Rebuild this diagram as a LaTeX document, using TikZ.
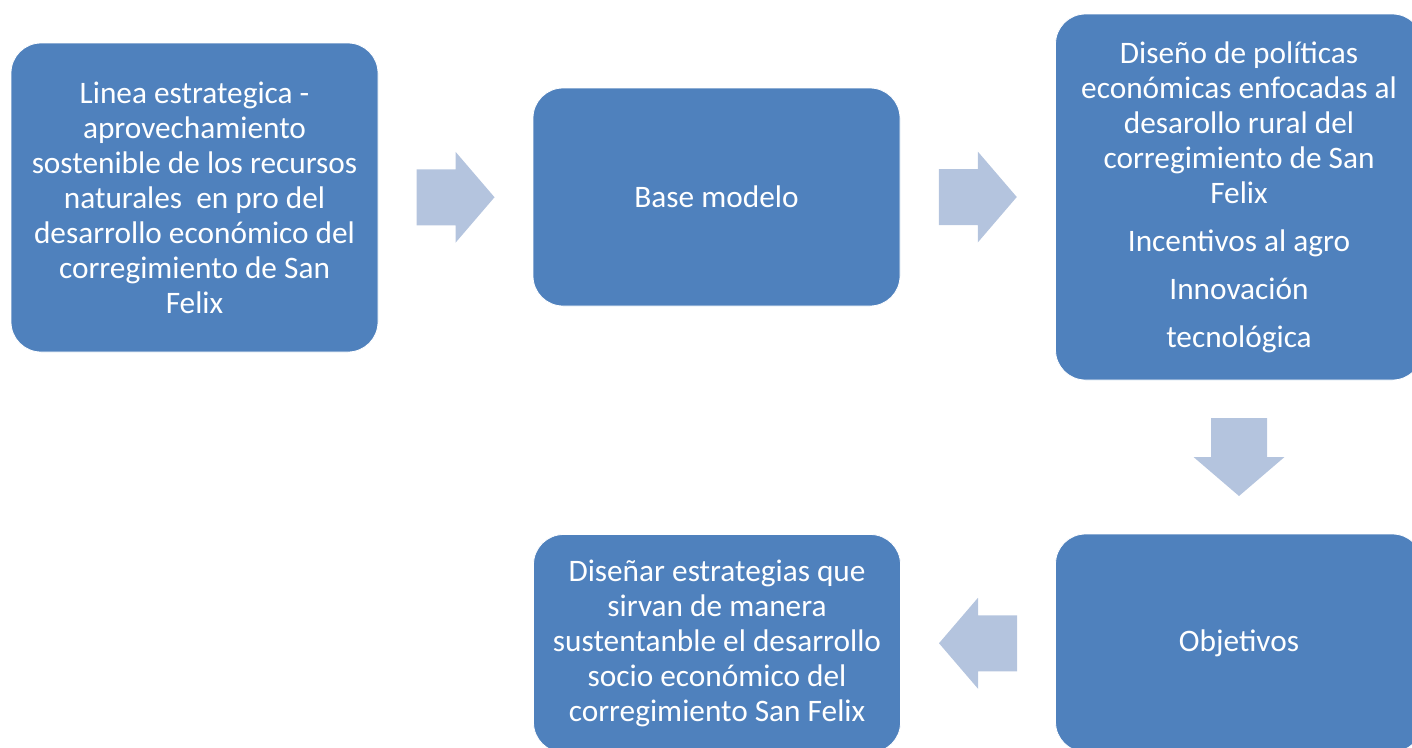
\documentclass[tikz,border=0pt]{standalone}
\usepackage{fontspec}
\setmainfont{Carlito}
\usetikzlibrary{calc}

\definecolor{boxblue}{RGB}{79,129,189}
\definecolor{arrowblue}{RGB}{180,196,222}

\tikzset{
    stagebox/.style={fill=boxblue, draw=white, line width=0.8pt, rounded corners=30pt,
        text=white, align=center, minimum width=367pt, inner sep=0pt,
        font=\fontsize{31.3}{35}\selectfont},
    blockarrow/.pic={
        \fill[arrowblue] (-39,-28) -- (0,-28) -- (0,-45.5) -- (39,0)
            -- (0,45.5) -- (0,28) -- (-39,28) -- cycle;
    }
}

\begin{document}
\begin{tikzpicture}[x=1pt,y=-1pt]
        \useasboundingbox (0,0) rectangle (1412,747);
        \clip (0,0) rectangle (1412,747);

        % Stages
        \node[stagebox, minimum height=309pt] (linea) at (194.5,197.5)
            {Linea estrategica -\\aprovechamiento\\sostenible de los recursos\\naturales\ \ en pro del\\desarrollo económico del\\corregimiento de San\\Felix};
        \node[stagebox, minimum height=218pt] (base) at (716.5,197)
            {Base modelo};
        \node[stagebox, minimum height=366pt] (diseno) at (1239,197)
            {Diseño de políticas\\económicas enfocadas al\\desarollo rural del\\corregimiento de San\\Felix\\[13pt]Incentivos al agro\\[13pt]Innovación\\[13pt]tecnológica};
        \node[stagebox, minimum height=218pt] (objetivos) at (1239,643)
            {Objetivos};
        \node[stagebox, minimum height=218pt] (disenar) at (717,643.5)
            {Diseñar estrategias que\\sirvan de manera\\sustentanble el desarrollo\\socio económico del\\corregimiento San Felix};

        % Block arrows between stages
        \pic at ($(linea.east)!0.5!(base.west)$) {blockarrow};
        \pic at ($(base.east)!0.5!(diseno.west)$) {blockarrow};
        \pic[rotate=-90] at ($(diseno.south)!0.5!(objetivos.north)$) {blockarrow};
        \pic[rotate=180] at ($(objetivos.west)!0.5!(disenar.east)$) {blockarrow};

    \end{tikzpicture}
\end{document}
